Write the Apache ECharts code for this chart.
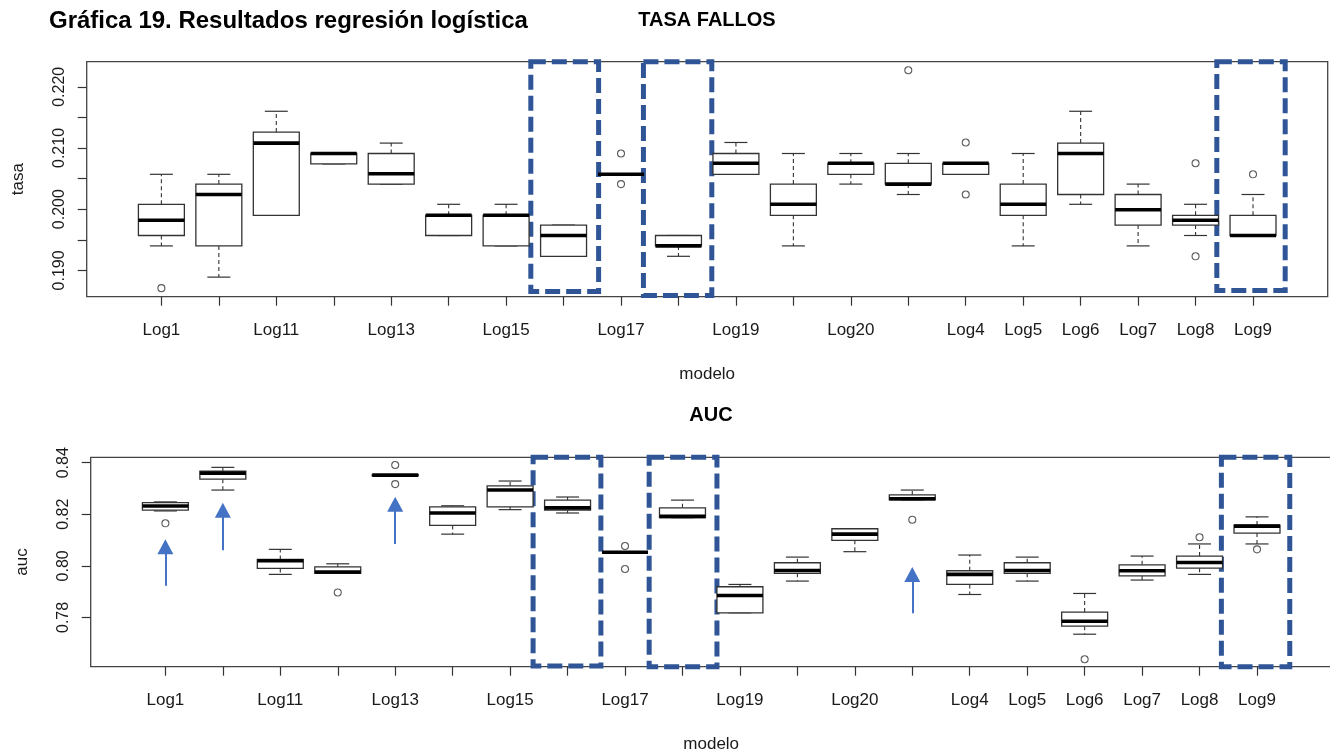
<!DOCTYPE html>
<html>
<head>
<meta charset="utf-8">
<script src="https://cdn.jsdelivr.net/npm/echarts@6/dist/echarts.min.js"></script>
<style>
  html, body { margin: 0; padding: 0; background: #fff; }
  #chart { width: 1330px; height: 749px; }
</style>
</head>
<body>
<div id="chart"></div>
<script>
// Model names, in the order the boxplots are drawn
const modelos = ['Log1','Log10','Log11','Log12','Log13','Log14','Log15','Log16','Log17','Log18',
                 'Log19','Log2','Log20','Log3','Log4','Log5','Log6','Log7','Log8','Log9'];

// Error rate per model: [lower whisker, Q1, median, Q3, upper whisker]
const tasaStats = [
  [0.1940, 0.1957, 0.1982, 0.2008, 0.2057],
  [0.1889, 0.1940, 0.2024, 0.2041, 0.2057],
  [0.1990, 0.1990, 0.2108, 0.2126, 0.2160],
  [0.2074, 0.2074, 0.2091, 0.2091, 0.2091],
  [0.2041, 0.2041, 0.2058, 0.2091, 0.2108],
  [0.1957, 0.1957, 0.1990, 0.1990, 0.2008],
  [0.1940, 0.1940, 0.1990, 0.1990, 0.2008],
  [0.1923, 0.1923, 0.1957, 0.1974, 0.1974],
  [0.2057, 0.2057, 0.2057, 0.2057, 0.2057],
  [0.1923, 0.1940, 0.1940, 0.1957, 0.1957],
  [0.2057, 0.2057, 0.2075, 0.2091, 0.2109],
  [0.1940, 0.1990, 0.2008, 0.2041, 0.2091],
  [0.2041, 0.2057, 0.2075, 0.2075, 0.2091],
  [0.2024, 0.2041, 0.2041, 0.2075, 0.2091],
  [0.2057, 0.2057, 0.2075, 0.2075, 0.2075],
  [0.1940, 0.1990, 0.2008, 0.2041, 0.2091],
  [0.2008, 0.2024, 0.2091, 0.2108, 0.2160],
  [0.1940, 0.1974, 0.1999, 0.2024, 0.2041],
  [0.1957, 0.1974, 0.1982, 0.1990, 0.2008],
  [0.1957, 0.1957, 0.1957, 0.1990, 0.2024]
];
// Error rate outliers: [model index, value]
const tasaOutliers = [
  [0, 0.1871], [8, 0.2091], [8, 0.2041], [13, 0.2227], [14, 0.2109],
  [14, 0.2024], [18, 0.2075], [18, 0.1923], [19, 0.2057]
];

// AUC per model: [lower whisker, Q1, median, Q3, upper whisker]
const aucStats = [
  [0.8213, 0.8216, 0.8232, 0.8245, 0.8248],
  [0.8294, 0.8336, 0.8359, 0.8367, 0.8382],
  [0.7967, 0.7990, 0.8020, 0.8025, 0.8064],
  [0.7971, 0.7971, 0.7976, 0.7996, 0.8008],
  [0.8349, 0.8349, 0.8352, 0.8354, 0.8354],
  [0.8123, 0.8157, 0.8205, 0.8229, 0.8233],
  [0.8218, 0.8229, 0.8294, 0.8310, 0.8329],
  [0.8205, 0.8216, 0.8225, 0.8255, 0.8267],
  [0.8053, 0.8053, 0.8053, 0.8053, 0.8053],
  [0.8187, 0.8187, 0.8192, 0.8225, 0.8255],
  [0.7818, 0.7818, 0.7885, 0.7919, 0.7928],
  [0.7941, 0.7971, 0.7982, 0.8012, 0.8034],
  [0.8055, 0.8099, 0.8123, 0.8144, 0.8144],
  [0.8256, 0.8256, 0.8260, 0.8275, 0.8294],
  [0.7889, 0.7928, 0.7967, 0.7981, 0.8042],
  [0.7941, 0.7971, 0.7982, 0.8012, 0.8034],
  [0.7735, 0.7766, 0.7785, 0.7821, 0.7893],
  [0.7945, 0.7961, 0.7981, 0.8004, 0.8038],
  [0.7967, 0.7991, 0.8013, 0.8038, 0.8085],
  [0.8085, 0.8127, 0.8154, 0.8158, 0.8190]
];
// AUC outliers: [model index, value]
const aucOutliers = [
  [0, 0.8165], [3, 0.7897], [4, 0.8391], [4, 0.8317], [8, 0.8077],
  [8, 0.7988], [13, 0.8179], [16, 0.7638], [18, 0.8111], [19, 0.8064]
];

// Axis ticks and labels
const xTickIdx = modelos.map((_, i) => i);
const xLabelIdx = [0, 2, 4, 6, 8, 10, 12, 14, 15, 16, 17, 18, 19];
const tasaTicks = [0.190, 0.195, 0.200, 0.205, 0.210, 0.215, 0.220];
const tasaLabels = [0.190, 0.200, 0.210, 0.220];
const aucTicks = [0.78, 0.80, 0.82, 0.84];
const aucLabels = [0.78, 0.80, 0.82, 0.84];

// Highlighted models (dashed frames): [model index, left offset, right offset, bottom, top]
const tasaFrames = [[7, -0.57, 0.61, 0.18656, 0.2241], [9, -0.61, 0.58, 0.18590, 0.2241], [19, -0.63, 0.56, 0.18672, 0.2241]];
const aucFrames = [[7, -0.60, 0.58, 0.7612, 0.8433], [9, -0.58, 0.60, 0.7605, 0.8427], [19, -0.62, 0.57, 0.7605, 0.8427]];
// Arrows on AUC panel: [model index, tail value, head value]
const aucArrows = [[0, 0.7923, 0.8074], [1, 0.8061, 0.8216], [4, 0.8085, 0.8239], [13, 0.7816, 0.7967]];

const FONT = '"Liberation Sans", Arial, sans-serif';
const INK = '#1a1a1a';
const BOX = '#333333';
const FRAME_BLUE = '#2F5597';
const ARROW_BLUE = '#4472C4';

function renderBox(params, api) {
  const x = api.value(0);
  const lo = api.value(1), q1 = api.value(2), med = api.value(3), q3 = api.value(4), hi = api.value(5);
  const halfBox = api.size([0.4, 0])[0];
  const halfCap = halfBox / 2;
  const pLo = api.coord([x, lo]);
  const pQ1 = api.coord([x, q1]);
  const pMed = api.coord([x, med]);
  const pQ3 = api.coord([x, q3]);
  const pHi = api.coord([x, hi]);
  const cx = pMed[0];
  const thin = { stroke: BOX, lineWidth: 1.2, fill: null };
  const dashed = { stroke: BOX, lineWidth: 1.1, lineDash: [4, 3], fill: null };
  const children = [];
  if (pHi[1] < pQ3[1] - 0.5) {
    children.push({ type: 'line', shape: { x1: cx, y1: pQ3[1], x2: cx, y2: pHi[1] }, style: dashed });
  }
  if (pLo[1] > pQ1[1] + 0.5) {
    children.push({ type: 'line', shape: { x1: cx, y1: pQ1[1], x2: cx, y2: pLo[1] }, style: dashed });
  }
  children.push({ type: 'line', shape: { x1: cx - halfCap, y1: pHi[1], x2: cx + halfCap, y2: pHi[1] }, style: thin });
  children.push({ type: 'line', shape: { x1: cx - halfCap, y1: pLo[1], x2: cx + halfCap, y2: pLo[1] }, style: thin });
  children.push({
    type: 'rect',
    shape: { x: cx - halfBox, y: pQ3[1], width: halfBox * 2, height: Math.max(pQ1[1] - pQ3[1], 0) },
    style: { stroke: BOX, lineWidth: 1.3, fill: '#fff' }
  });
  children.push({
    type: 'line',
    shape: { x1: cx - halfBox, y1: pMed[1], x2: cx + halfBox, y2: pMed[1] },
    style: { stroke: '#000', lineWidth: 3.6 }
  });
  return { type: 'group', children };
}

function xAxisFor(gridIndex) {
  return {
    gridIndex, type: 'value', min: -1.3, max: 20.3,
    axisLine: { show: false, onZero: false }, splitLine: { show: false },
    axisTick: { show: true, inside: false, length: 9, customValues: xTickIdx, lineStyle: { color: '#333', width: 1.2 } },
    axisLabel: {
      customValues: xLabelIdx, formatter: v => modelos[Math.round(v)],
      margin: 25, fontSize: 17, color: INK, fontFamily: FONT
    },
    name: 'modelo', nameLocation: 'middle', nameGap: 69,
    nameTextStyle: { fontSize: 17, color: INK, fontFamily: FONT }
  };
}

function yAxisFor(gridIndex, min, max, ticks, labels, digits, name) {
  return {
    gridIndex, type: 'value', min, max,
    axisLine: { show: false, onZero: false }, splitLine: { show: false },
    axisTick: { show: true, inside: false, length: 9, customValues: ticks, lineStyle: { color: '#333', width: 1.2 } },
    axisLabel: {
      customValues: labels, formatter: v => Number(v).toFixed(digits), rotate: 90,
      margin: 19, fontSize: 16, color: INK, fontFamily: FONT
    },
    name, nameLocation: 'middle', nameGap: 60, nameRotate: 90,
    nameTextStyle: { fontSize: 17, color: INK, fontFamily: FONT }
  };
}

function frameArea(frames) {
  return {
    silent: true,
    itemStyle: { color: 'rgba(0,0,0,0)', borderColor: FRAME_BLUE, borderWidth: 5, borderType: [15, 6] },
    label: { show: false },
    data: frames.map(f => [{ coord: [f[0] + f[1], f[4]] }, { coord: [f[0] + f[2], f[3]] }])
  };
}

const chart = echarts.init(document.getElementById('chart'), null, { renderer: 'canvas' });

chart.setOption({
  animation: false,
  backgroundColor: '#fff',
  textStyle: { fontFamily: FONT },
  grid: [
    { left: 86.7, top: 61.7, width: 1241, height: 235, outerBoundsMode: 'none', containLabel: false,
      show: true, borderColor: '#444', borderWidth: 1.3, backgroundColor: 'transparent' },
    { left: 90.7, top: 457.3, width: 1241, height: 209.4, outerBoundsMode: 'none', containLabel: false,
      show: true, borderColor: '#444', borderWidth: 1.3, backgroundColor: 'transparent' }
  ],
  xAxis: [xAxisFor(0), xAxisFor(1)],
  yAxis: [
    yAxisFor(0, 0.1857, 0.2241, tasaTicks, tasaLabels, 3, 'tasa'),
    yAxisFor(1, 0.7609, 0.8421, aucTicks, aucLabels, 2, 'auc')
  ],
  graphic: [
    { type: 'text', left: 49, top: 9, style: { text: 'Gráfica 19. Resultados regresión logística', font: 'bold 24px ' + FONT, fill: '#000' } },
    { type: 'text', x: 707, y: 20, style: { text: 'TASA FALLOS', font: 'bold 20px ' + FONT, fill: '#000', align: 'center', verticalAlign: 'middle' } },
    { type: 'text', x: 711, y: 415, style: { text: 'AUC', font: 'bold 20px ' + FONT, fill: '#000', align: 'center', verticalAlign: 'middle' } }
  ],
  series: [
    {
      type: 'custom', name: 'tasa', xAxisIndex: 0, yAxisIndex: 0, clip: false,
      renderItem: renderBox,
      encode: { x: 0, y: [1, 2, 3, 4, 5] },
      data: tasaStats.map((s, i) => [i].concat(s)),
      markArea: frameArea(tasaFrames)
    },
    {
      type: 'scatter', xAxisIndex: 0, yAxisIndex: 0, symbol: 'circle', symbolSize: 7,
      itemStyle: { color: '#fff', borderColor: '#333', borderWidth: 1.1 },
      data: tasaOutliers
    },
    {
      type: 'custom', name: 'auc', xAxisIndex: 1, yAxisIndex: 1, clip: false,
      renderItem: renderBox,
      encode: { x: 0, y: [1, 2, 3, 4, 5] },
      data: aucStats.map((s, i) => [i].concat(s)),
      markArea: frameArea(aucFrames),
      markLine: {
        silent: true, symbol: ['none', 'triangle'], symbolSize: [16, 15],
        lineStyle: { color: ARROW_BLUE, width: 2, type: 'solid' },
        itemStyle: { color: ARROW_BLUE },
        label: { show: false },
        data: aucArrows.map(a => [{ coord: [a[0], a[1]] }, { coord: [a[0], a[2]] }])
      }
    },
    {
      type: 'scatter', xAxisIndex: 1, yAxisIndex: 1, symbol: 'circle', symbolSize: 7,
      itemStyle: { color: '#fff', borderColor: '#333', borderWidth: 1.1 },
      data: aucOutliers
    }
  ]
});
</script>
</body>
</html>
